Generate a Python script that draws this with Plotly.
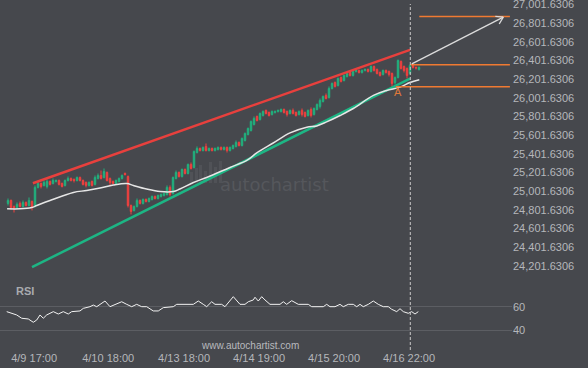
import math
import plotly.graph_objects as go

# ---------------- data ----------------
opens = [24869, 24901, 24837, 24826, 24869, 24837, 24880, 24847, 24890, 24837,
         25041, 25083, 25062, 25051, 25105, 25083, 25105, 25115, 25083, 25062,
         25115, 25137, 25126, 25115, 25147, 25115, 25094, 25062, 25105, 25073,
         25137, 25169, 25147, 25201, 25137, 25105, 25083, 25105, 25137, 25190,
         25158, 24847, 24794, 24837, 24901, 24869, 24912, 24890, 24912, 24944,
         24922, 24944, 24954, 24965, 25041, 24976, 25137, 25201, 25158, 25233,
         25190, 25287, 25255, 25415, 25458, 25437, 25480, 25437, 25458, 25437,
         25448, 25469, 25448, 25469, 25437, 25458, 25480, 25523, 25490, 25544,
         25608, 25651, 25715, 25801, 25769, 25812, 25866, 25844, 25823, 25844,
         25855, 25855, 25876, 25855, 25833, 25866, 25844, 25823, 25866, 25844,
         25812, 25876, 25823, 25876, 25909, 25962, 26026, 26005, 26101, 26166,
         26134, 26219, 26187, 26230, 26273, 26241, 26284, 26294, 26273, 26294,
         26305, 26284, 26337, 26305, 26273, 26252, 26294, 26284, 26262, 26166,
         26219, 26391, 26337, 26316, 26262, 26348, 26327, 26305]
closes = [24901, 24826, 24815, 24858, 24837, 24880, 24847, 24901, 24826, 25041,
          25083, 25051, 25094, 25105, 25073, 25115, 25115, 25073, 25051, 25115,
          25137, 25115, 25115, 25147, 25115, 25073, 25062, 25094, 25062, 25147,
          25169, 25137, 25212, 25115, 25094, 25083, 25115, 25137, 25169, 25180,
          24847, 24783, 24837, 24901, 24869, 24912, 24890, 24922, 24944, 24922,
          24954, 24965, 24976, 25041, 24965, 25147, 25201, 25158, 25233, 25190,
          25287, 25244, 25426, 25458, 25437, 25469, 25437, 25458, 25437, 25458,
          25469, 25448, 25469, 25437, 25469, 25490, 25523, 25490, 25566, 25619,
          25673, 25748, 25780, 25758, 25833, 25855, 25833, 25812, 25855, 25855,
          25866, 25876, 25844, 25823, 25866, 25833, 25812, 25855, 25823, 25801,
          25866, 25812, 25887, 25930, 25973, 26016, 25994, 26101, 26155, 26123,
          26209, 26177, 26241, 26262, 26241, 26284, 26294, 26273, 26294, 26305,
          26284, 26337, 26294, 26262, 26241, 26294, 26273, 26252, 26155, 26219,
          26402, 26316, 26294, 26241, 26348, 26327, 26322, 26327]
highs = [24922, 24912, 24847, 24880, 24890, 24901, 24890, 24933, 24901, 25062,
         25105, 25094, 25115, 25126, 25115, 25137, 25126, 25126, 25094, 25126,
         25158, 25147, 25137, 25158, 25158, 25126, 25105, 25105, 25115, 25169,
         25190, 25222, 25244, 25212, 25147, 25115, 25126, 25147, 25180, 25201,
         25169, 24858, 24847, 24922, 24912, 24922, 24922, 24933, 24954, 24954,
         24965, 24976, 24987, 25062, 25062, 25158, 25222, 25212, 25244, 25244,
         25297, 25308, 25437, 25480, 25469, 25480, 25512, 25469, 25469, 25469,
         25480, 25480, 25480, 25480, 25480, 25501, 25544, 25533, 25576, 25630,
         25683, 25758, 25801, 25812, 25844, 25866, 25876, 25855, 25866, 25866,
         25876, 25887, 25887, 25866, 25876, 25887, 25855, 25866, 25887, 25855,
         25876, 25898, 25898, 25941, 25994, 26026, 26048, 26123, 26166, 26176,
         26219, 26230, 26251, 26273, 26284, 26294, 26305, 26305, 26305, 26316,
         26316, 26348, 26348, 26316, 26284, 26305, 26305, 26294, 26273, 26230,
         26412, 26402, 26348, 26327, 26359, 26359, 26337, 26337]
lows = [24847, 24804, 24772, 24815, 24826, 24826, 24837, 24837, 24794, 24826,
        25030, 25030, 25051, 25030, 25062, 25073, 25094, 25062, 25041, 25051,
        25105, 25105, 25094, 25105, 25105, 25062, 25041, 25051, 25051, 25062,
        25126, 25126, 25137, 25105, 25062, 25073, 25073, 25094, 25126, 25169,
        24826, 24751, 24783, 24826, 24858, 24858, 24880, 24880, 24901, 24912,
        24912, 24933, 24944, 24954, 24944, 24965, 25126, 25147, 25147, 25180,
        25180, 25233, 25244, 25405, 25426, 25426, 25426, 25426, 25426, 25426,
        25437, 25437, 25437, 25415, 25426, 25448, 25469, 25480, 25480, 25533,
        25598, 25640, 25705, 25748, 25758, 25801, 25823, 25801, 25812, 25833,
        25844, 25844, 25833, 25801, 25823, 25823, 25801, 25812, 25801, 25791,
        25801, 25791, 25812, 25866, 25887, 25951, 25984, 25994, 26091, 26112,
        26123, 26166, 26177, 26219, 26230, 26230, 26273, 26262, 26262, 26284,
        26273, 26273, 26284, 26252, 26230, 26241, 26262, 26230, 26123, 26144,
        26209, 26305, 26273, 26209, 26252, 26316, 26305, 26294]
candle_idx = list(range(len(opens)))

# moving average line (candle index, price)
ma_x = [-0.3, 4, 7.9, 9.6, 14, 21.8, 26.2, 30.7, 35.1, 39.6, 41.8, 46.2, 50.7,
        55.1, 57.3, 61.8, 66.2, 74, 79.6, 82.9, 88.4, 94, 99.6, 102.9, 106.2,
        110.7, 115.1, 121.8, 126.2, 130.7, 134, 137.1]
ma_y = [24812, 24812, 24826, 24847, 24901, 24987, 25008, 25035, 25067, 25083,
        25062, 25024, 24997, 24997, 25024, 25094, 25147, 25255, 25330, 25410,
        25517, 25625, 25687, 25700, 25743, 25812, 25887, 26027, 26080, 26116,
        26166, 26195]

# RSI panel
rsi_x = [-0.43, 1.23, 2.9, 4.57, 6.77, 8.43, 9.57, 10.67, 11.77, 12.9, 15.1,
         16.77, 18.43, 20.1, 21.23, 24, 25.1, 27.33, 28.43, 29.57, 30.67, 32.33,
         34, 35.67, 37.9, 39.57, 41.23, 42.9, 44.57, 46.23, 48.43, 50.1, 51.77,
         55.1, 56.23, 61.77, 63.43, 65.1, 66.23, 67.9, 69, 71.23, 72.33, 75.1,
         77.33, 79, 80.1, 81.77, 82.33, 83.43, 84.57, 85.67, 87.33, 90.67, 91.77,
         92.9, 94.57, 96.77, 100.1, 101.23, 105.1, 106.23, 107.33, 109, 110.67,
         111.77, 113.43, 115.1, 116.23, 117.33, 118.43, 120.1, 121.77, 123.43,
         125.1, 126.77, 127.9, 129.57, 130.67, 131.77, 133.43, 134.57, 135.67,
         136.77]
rsi_y = [55.8, 54.4, 53.0, 50.2, 49.6, 46.8, 48.7, 53.0, 50.2, 53.0, 55.8,
         53.8, 55.8, 53.8, 55.8, 56.4, 58.6, 60.0, 61.4, 60.0, 62.0, 64.8,
         60.0, 62.0, 64.2, 62.0, 60.0, 62.0, 60.0, 60.0, 56.4, 56.4, 59.2,
         60.0, 62.0, 62.0, 64.8, 62.0, 60.0, 64.2, 62.0, 62.0, 60.0, 68.5,
         62.0, 62.0, 64.2, 65.7, 68.0, 64.8, 68.5, 65.7, 62.0, 62.0, 64.2,
         62.0, 65.1, 62.0, 62.0, 60.0, 60.0, 62.0, 60.0, 60.0, 62.0,
         60.0, 62.0, 62.0, 60.0, 62.0, 60.0, 62.0, 64.8, 62.0,
         60.0, 60.0, 57.8, 55.8, 58.3, 55.8, 54.4, 55.8, 53.8,
         55.8]

# channel lines
upper_x = [8.3, 134.0]
upper_y = [25086, 26516]
lower_x = [8.0, 134.0]
lower_y = [24186, 26206]

# orange levels
level_y = [26873, 26356, 26120]
level_start = [137.1, 134.2, 129.3]
level_end = 167.3

# projection arrow
proj_x = [134.6, 165.1]
proj_y = [26366, 26866]

now_x = 134.1
point_label = "A"
point_x = 130.0
point_y = 26060

price_tickvals = [24201.6306, 24401.6306, 24601.6306, 24801.6306, 25001.6306,
                  25201.6306, 25401.6306, 25601.6306, 25801.6306, 26001.6306,
                  26201.6306, 26401.6306, 26601.6306, 26801.6306, 27001.6306]
price_ticktext = ["24,201.6306", "24,401.6306", "24,601.6306", "24,801.6306",
                  "25,001.6306", "25,201.6306", "25,401.6306", "25,601.6306",
                  "25,801.6306", "26,001.6306", "26,201.6306", "26,401.6306",
                  "26,601.6306", "26,801.6306", "27,001.6306"]
time_tickvals = [8.7, 33.4, 58.7, 83.7, 108.7, 133.7]
time_ticktext = ["4/9 17:00", "4/10 18:00", "4/13 18:00", "4/14 19:00",
                 "4/15 20:00", "4/16 22:00"]
rsi_tickvals = [40, 60]

# ---------------- styling / layout ----------------
W, H = 588, 368
PLOT_R = 512                       # right edge of plot area in px
X_RANGE = [-2.667, 168.0]
Y_TOP = 27050.0
PRICE_PER_PX = 10.72
MAIN_BOTTOM_PX = 285
Y_RANGE = [Y_TOP - MAIN_BOTTOM_PX * PRICE_PER_PX, Y_TOP]
RSI_TOP_PX, RSI_BOTTOM_PX = 290, 350
RSI_RANGE = [23.3, 74.15]

BG = "#46484d"
GREEN = "#21b07e"
RED = "#f0403f"
TXT = "#b5b7bb"
ORANGE = "#f07a32"
FONT = "Liberation Sans, Arial, sans-serif"


def px_x(p):
    return p / W


def px_y(p):
    return 1 - p / H


fig = go.Figure()

# channel lines
fig.add_trace(go.Scatter(x=lower_x, y=lower_y, mode="lines",
                         line=dict(color="#1db584", width=2.5), hoverinfo="skip"))
fig.add_trace(go.Scatter(x=upper_x, y=upper_y, mode="lines",
                         line=dict(color="#e8403d", width=2.5), hoverinfo="skip"))
# moving average
fig.add_trace(go.Scatter(x=ma_x, y=ma_y, mode="lines", line_shape="spline",
                         line=dict(color="#e6e6e6", width=1.5), hoverinfo="skip"))
# candles
fig.add_trace(go.Candlestick(
    x=candle_idx, open=opens, high=highs, low=lows, close=closes,
    increasing=dict(line=dict(color=GREEN, width=1), fillcolor=GREEN),
    decreasing=dict(line=dict(color=RED, width=1), fillcolor=RED),
    whiskerwidth=0, hoverinfo="skip"))

# orange levels
for lv, st in zip(level_y, level_start):
    fig.add_trace(go.Scatter(x=[st, level_end], y=[lv, lv], mode="lines",
                             line=dict(color=ORANGE, width=1.5), hoverinfo="skip"))

# projection arrow line + open chevron head
fig.add_trace(go.Scatter(x=proj_x, y=proj_y, mode="lines",
                         line=dict(color="#dcdcdc", width=1.3), hoverinfo="skip"))
px_per_x = PLOT_R / (X_RANGE[1] - X_RANGE[0])
dx_px = (proj_x[1] - proj_x[0]) * px_per_x
dy_px = (proj_y[1] - proj_y[0]) / PRICE_PER_PX
ang = math.atan2(dy_px, dx_px)
for sgn in (1, -1):
    a = ang + math.pi + sgn * math.radians(32)
    hx = proj_x[1] + 8 * math.cos(a) / px_per_x
    hy = proj_y[1] + 8 * math.sin(a) * PRICE_PER_PX
    fig.add_trace(go.Scatter(x=[hx, proj_x[1]], y=[hy, proj_y[1]], mode="lines",
                             line=dict(color="#dcdcdc", width=1.3), hoverinfo="skip"))

# RSI line
fig.add_trace(go.Scatter(x=rsi_x, y=rsi_y, mode="lines", yaxis="y2",
                         line=dict(color="#f2f2f2", width=1), hoverinfo="skip"))

fig.update_traces(showlegend=False)

xdom = [0, PLOT_R / W]
fig.update_layout(
    width=W, height=H,
    margin=dict(l=0, r=0, t=0, b=0, autoexpand=False),
    paper_bgcolor=BG, plot_bgcolor=BG,
    font=dict(family=FONT, size=11, color=TXT),
    showlegend=False,
    xaxis=dict(domain=xdom, range=X_RANGE, anchor="y2",
               tickvals=time_tickvals, ticktext=time_ticktext,
               ticks="", showgrid=False, zeroline=False, showline=False,
               rangeslider=dict(visible=False), automargin=False,
               tickfont=dict(size=11, color=TXT)),
    yaxis=dict(domain=[1 - MAIN_BOTTOM_PX / H, 1], range=Y_RANGE, anchor="x",
               side="right", tickvals=price_tickvals, ticktext=price_ticktext,
               ticks="", showgrid=False, zeroline=False, showline=False,
               ticklabeloverflow="allow", automargin=False,
               tickfont=dict(size=11, color=TXT)),
    yaxis2=dict(domain=[1 - RSI_BOTTOM_PX / H, 1 - RSI_TOP_PX / H], range=RSI_RANGE,
                anchor="x", side="right", tickvals=rsi_tickvals,
                ticks="", showgrid=True, gridcolor="#5c5e63", gridwidth=1,
                zeroline=False, showline=False, automargin=False,
                ticklabeloverflow="allow",
                tickfont=dict(size=11, color=TXT)),
)

# watermark logo bars (decoration)
logo_bars = [(190, 193, 172), (195, 198, 168), (199, 202, 165), (204, 207, 171),
             (209, 212, 162), (214, 217, 167), (219, 222, 161)]
for x0, x1, top in logo_bars:
    fig.add_shape(type="rect", xref="paper", yref="paper", layer="below",
                  x0=px_x(x0), x1=px_x(x1), y0=px_y(183), y1=px_y(top),
                  line=dict(width=0), fillcolor="#505257")

# current-time dashed line
fig.add_shape(type="line", xref="x", yref="paper", x0=now_x, x1=now_x,
              y0=px_y(350), y1=px_y(4),
              line=dict(color="#c8c8c8", width=1, dash="3px,2px"))

# annotations
fig.add_annotation(x=px_x(274), y=px_y(185), xref="paper", yref="paper",
                   xanchor="center", yanchor="middle",
                   text="autochartist", showarrow=False,
                   font=dict(family="DejaVu Sans, sans-serif", size=18, color="#55575c"))
fig.add_annotation(x=px_x(250), y=px_y(345), xref="paper", yref="paper",
                   xanchor="center", yanchor="middle",
                   text="www.autochartist.com", showarrow=False,
                   font=dict(size=10, color="#b8babe"))
fig.add_annotation(x=px_x(14), y=px_y(291), xref="paper", yref="paper",
                   xanchor="left", yanchor="middle", text="<b>RSI</b>", showarrow=False,
                   font=dict(size=11, color="#a9abaf"))
fig.add_annotation(x=point_x, y=point_y, xref="x", yref="y",
                   xanchor="center", yanchor="middle",
                   text=point_label, showarrow=False,
                   font=dict(size=11, color="#e0793a"))

fig.write_html("out.html")
